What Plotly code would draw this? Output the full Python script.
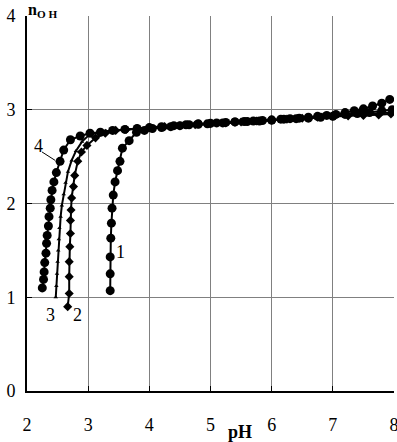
import plotly.graph_objects as go

# Curve 1 (circles)
c1_x = [3.36, 3.36, 3.36, 3.37, 3.38, 3.39, 3.41, 3.44, 3.48, 3.52, 3.56, 3.67, 3.79,
        3.92, 4.05, 4.2, 4.35, 4.5, 4.65, 4.8, 4.95, 5.1, 5.25, 5.4, 5.55, 5.7, 5.85,
        6.0, 6.15, 6.3, 6.45, 6.6, 6.75, 6.9, 7.05, 7.2, 7.35, 7.5, 7.65, 7.8, 7.93]
c1_y = [1.07, 1.25, 1.43, 1.63, 1.79, 1.95, 2.09, 2.23, 2.35, 2.45, 2.59, 2.67, 2.76,
        2.78, 2.80, 2.81, 2.82, 2.83, 2.84, 2.845, 2.85, 2.86, 2.865, 2.87, 2.875, 2.88, 2.885,
        2.89, 2.90, 2.905, 2.91, 2.92, 2.93, 2.94, 2.95, 2.97, 2.99, 3.01, 3.04, 3.07, 3.11]

# Curve 2 (diamonds)
c2_x = [2.665, 2.69, 2.69, 2.69, 2.70, 2.71, 2.71, 2.72, 2.73, 2.76, 2.78, 2.83, 2.89, 2.98,
        3.12, 3.28, 3.45, 3.62, 3.8, 4.0, 4.25, 4.5, 4.75, 5.0, 5.25, 5.5, 5.75, 6.0,
        6.25, 6.5, 6.75, 7.0, 7.25, 7.5, 7.75, 7.95]
c2_y = [0.90, 1.04, 1.22, 1.38, 1.54, 1.68, 1.82, 1.93, 2.06, 2.18, 2.30, 2.45, 2.55, 2.62,
        2.70, 2.75, 2.78, 2.79, 2.80, 2.81, 2.82, 2.83, 2.84, 2.85, 2.86, 2.87, 2.88, 2.89,
        2.90, 2.91, 2.92, 2.93, 2.935, 2.94, 2.945, 2.955]

# Curve 3 (small triangles)
c3_x = [2.47, 2.48, 2.49, 2.50, 2.51, 2.52, 2.53, 2.55, 2.57, 2.60, 2.63, 2.67, 2.73,
        2.80, 2.90, 3.03, 3.3, 3.6, 4.0, 4.5, 5.0, 5.5, 6.0, 6.5, 7.0, 7.5, 7.95]
c3_y = [1.00, 1.12, 1.25, 1.38, 1.50, 1.62, 1.74, 1.86, 1.98, 2.10, 2.22, 2.34, 2.46,
        2.56, 2.66, 2.74, 2.77, 2.79, 2.81, 2.83, 2.85, 2.87, 2.89, 2.91, 2.93, 2.95, 2.97]

# Curve 4 (circles)
c4_x = [2.25, 2.27, 2.28, 2.29, 2.31, 2.32, 2.33, 2.35, 2.36, 2.38, 2.39, 2.41, 2.44,
        2.48, 2.54, 2.60, 2.71, 2.87, 3.03, 3.2, 3.4, 3.6, 3.8, 4.0, 4.2, 4.4, 4.6, 4.8,
        5.0, 5.2, 5.4, 5.6, 5.8, 6.0, 6.2, 6.4, 6.6, 6.8, 7.0, 7.2, 7.4, 7.6, 7.8, 7.97]
c4_y = [1.10, 1.19, 1.27, 1.37, 1.47, 1.575, 1.66, 1.76, 1.86, 1.95, 2.04, 2.14, 2.23,
        2.33, 2.45, 2.57, 2.68, 2.72, 2.75, 2.76, 2.78, 2.79, 2.80, 2.81, 2.82, 2.83, 2.84, 2.85,
        2.855, 2.86, 2.87, 2.875, 2.88, 2.89, 2.90, 2.905, 2.91, 2.92, 2.93, 2.95, 2.96, 2.97, 2.99, 3.00]

x_ticks = [2, 3, 4, 5, 6, 7, 8]
y_ticks = [0, 1, 2, 3, 4]

curve_labels = ["1", "2", "3", "4"]
label_x = [3.53, 2.82, 2.38, 2.18]
label_y = [1.48, 0.81, 0.81, 2.61]

SERIF = "Liberation Serif"

fig = go.Figure()
line = dict(color="black", width=2)
fig.add_trace(go.Scatter(x=c4_x, y=c4_y, mode="lines+markers", line=line,
                         marker=dict(symbol="circle", size=9, color="black")))
fig.add_trace(go.Scatter(x=c3_x, y=c3_y, mode="lines+markers", line=line,
                         marker=dict(symbol="triangle-up", size=4, color="black")))
fig.add_trace(go.Scatter(x=c2_x, y=c2_y, mode="lines+markers", line=line,
                         marker=dict(symbol="diamond", size=7, color="black")))
fig.add_trace(go.Scatter(x=c1_x, y=c1_y, mode="lines+markers", line=line,
                         marker=dict(symbol="circle", size=9, color="black")))

for t, xx, yy in zip(curve_labels, label_x, label_y):
    fig.add_annotation(x=xx, y=yy, text=t, showarrow=False,
                       font=dict(family=SERIF, size=18, color="black"))

# leader line for label 4
fig.add_shape(type="line", x0=2.245, y0=2.55, x1=2.46, y1=2.46,
              line=dict(color="black", width=1))

fig.add_annotation(xref="paper", yref="paper", x=0.58, y=-0.109, xanchor="center",
                   yanchor="middle", text="<b>pH</b>", showarrow=False,
                   font=dict(family=SERIF, size=18, color="black"))
fig.add_annotation(xref="paper", yref="paper", x=0.0, y=1.0, xanchor="left",
                   yanchor="bottom", yshift=-5, borderpad=0,
                   text="<b>n<sub>O H</sub></b>", showarrow=False,
                   font=dict(family=SERIF, size=16, color="black"))

fig.update_layout(
    width=397, height=442,
    margin=dict(l=27, r=3, t=16, b=51, autoexpand=False),
    paper_bgcolor="white", plot_bgcolor="white",
    showlegend=False,
    font=dict(family=SERIF, size=18, color="black"),
    xaxis=dict(range=[2, 8], tickvals=x_ticks, ticktext=[str(v) for v in x_ticks],
               showgrid=True, gridcolor="#808080", gridwidth=1,
               showline=True, linecolor="black", linewidth=2,
               ticks="inside", ticklen=5, tickcolor="black", tickwidth=1,
               zeroline=False, ticklabelstandoff=16, automargin=False,
               ticklabeloverflow="allow",
               tickfont=dict(family=SERIF, size=18)),
    yaxis=dict(range=[0, 4], tickvals=y_ticks, ticktext=[str(v) for v in y_ticks],
               showgrid=True, gridcolor="#808080", gridwidth=1,
               showline=True, linecolor="black", linewidth=2,
               ticks="inside", ticklen=5, tickcolor="black", tickwidth=1,
               zeroline=False, ticklabelstandoff=6, automargin=False,
               ticklabeloverflow="allow",
               tickfont=dict(family=SERIF, size=18)),
)

fig.write_html("out.html", config={"displayModeBar": False},
               post_script="document.body.style.margin='0';document.body.style.padding='0';")
